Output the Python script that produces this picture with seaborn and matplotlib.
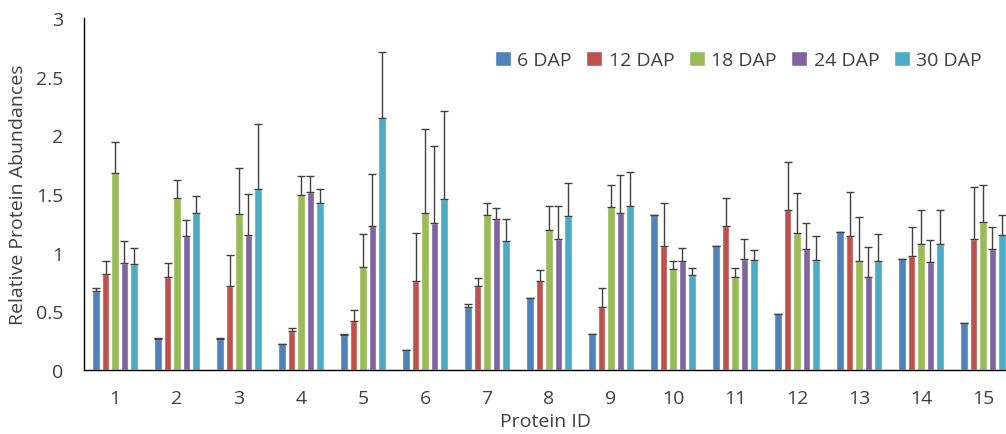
import numpy as np
import pandas as pd
import seaborn as sns
from matplotlib import pyplot as plt

proteins = [str(i) for i in range(1, 16)]
stages = ['6 DAP', '12 DAP', '18 DAP', '24 DAP', '30 DAP']
colors = ['#4F81BD', '#C0504D', '#9BBB59', '#8064A2', '#4BACC6']

dap6 = [0.67, 0.26, 0.26, 0.22, 0.30, 0.17, 0.54, 0.61, 0.31, 1.32, 1.06, 0.48, 1.18, 0.95, 0.40]
dap12 = [0.82, 0.79, 0.72, 0.33, 0.42, 0.76, 0.72, 0.76, 0.54, 1.06, 1.23, 1.36, 1.14, 0.97, 1.12]
dap18 = [1.68, 1.47, 1.33, 1.49, 0.88, 1.34, 1.32, 1.19, 1.39, 0.86, 0.79, 1.17, 0.93, 1.07, 1.26]
dap24 = [0.91, 1.14, 1.15, 1.52, 1.23, 1.25, 1.29, 1.12, 1.34, 0.93, 0.95, 1.03, 0.79, 0.92, 1.03]
dap30 = [0.90, 1.34, 1.54, 1.42, 2.15, 1.46, 1.10, 1.31, 1.40, 0.81, 0.94, 0.94, 0.93, 1.07, 1.15]

err6 = [0.03, 0.01, 0.01, 0.0, 0.01, 0.0, 0.02, 0.0, 0.0, 0.0, 0.0, 0.0, 0.0, 0.0, 0.0]
err12 = [0.11, 0.12, 0.26, 0.03, 0.09, 0.41, 0.06, 0.09, 0.16, 0.36, 0.24, 0.41, 0.38, 0.25, 0.44]
err18 = [0.26, 0.15, 0.39, 0.16, 0.28, 0.71, 0.10, 0.21, 0.19, 0.07, 0.08, 0.34, 0.37, 0.29, 0.32]
err24 = [0.19, 0.14, 0.35, 0.13, 0.44, 0.66, 0.09, 0.28, 0.32, 0.11, 0.17, 0.22, 0.26, 0.19, 0.19]
err30 = [0.14, 0.14, 0.56, 0.12, 0.56, 0.75, 0.19, 0.28, 0.29, 0.06, 0.08, 0.20, 0.23, 0.29, 0.17]

means = [dap6, dap12, dap18, dap24, dap30]
errs = [err6, err12, err18, err24, err30]

df = pd.DataFrame({
    'Protein ID': proteins * len(stages),
    'stage': np.repeat(stages, len(proteins)),
    'value': np.concatenate(means),
})

sns.set_style('white')
plt.rcParams['font.family'] = ['Open Sans', 'DejaVu Sans']

fig = plt.figure(figsize=(10.06, 4.35), dpi=100)
ax = fig.add_axes([84 / 1006, 64 / 435, 922 / 1006, 352 / 435])

sns.barplot(data=df, x='Protein ID', y='value', hue='stage', hue_order=stages,
            palette=colors, width=0.76, gap=0.18, saturation=1, errorbar=None, ax=ax)

# one-sided (plus) error bars, like the Excel original
for container, err in zip(ax.containers, errs):
    xs = [p.get_x() + p.get_width() / 2 for p in container.patches]
    ys = [p.get_height() for p in container.patches]
    ax.errorbar(xs, ys, yerr=[np.zeros(len(err)), err], fmt='none',
                ecolor='#404040', elinewidth=1, capsize=3, capthick=1)

ax.set_xlim(-0.5, 14.37)
ax.set_ylim(0, 3)
ax.set_yticks([0, 0.5, 1, 1.5, 2, 2.5, 3])
ax.set_yticklabels(['0', '0.5', '1', '1.5', '2', '2.5', '3'])
ax.tick_params(axis='both', labelsize=14, colors='#404040', length=0)
ax.tick_params(axis='y', pad=15)
ax.tick_params(axis='x', pad=14)
ax.set_ylabel('Relative Protein Abundances', fontsize=14, color='#404040', labelpad=6)
ax.set_xlabel('Protein ID', fontsize=14, color='#404040', labelpad=3)

for side in ['top', 'right']:
    ax.spines[side].set_visible(False)
for side in ['left', 'bottom']:
    ax.spines[side].set_color('black')
    ax.spines[side].set_linewidth(1)

ax.legend(title=None, ncol=5, frameon=False, fontsize=14, loc='center right',
          bbox_to_anchor=(0.993, 0.88), handlelength=0.8, handleheight=0.8,
          handletextpad=0.35, columnspacing=0.75, labelcolor='#404040')

fig.savefig('out.png', dpi=100)
